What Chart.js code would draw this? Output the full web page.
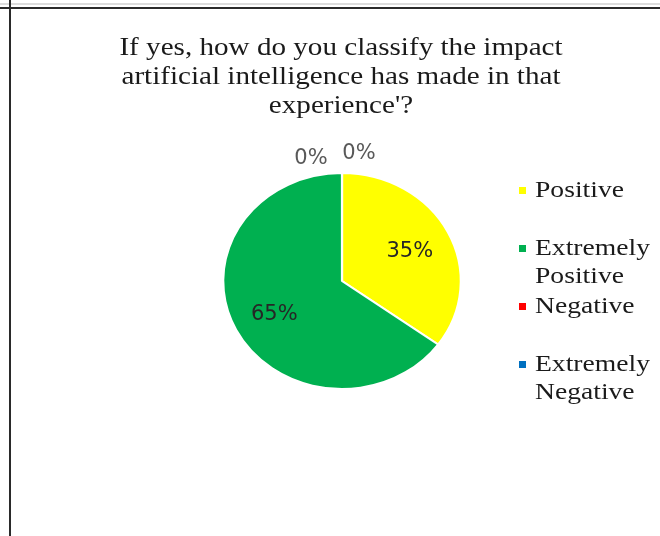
<!DOCTYPE html>
<html>
<head>
<meta charset="utf-8">
<script src="https://cdn.jsdelivr.net/npm/chart.js@4"></script>
<style>
body{margin:0;background:#fff;}
#wrap{position:relative;width:660px;height:536px;overflow:hidden;}
#canva1{position:absolute;left:0;top:0;}
.lineTop{position:absolute;left:0;top:7px;width:660px;height:2px;background:#2a2a2a;}
.lineTop2{position:absolute;left:0;top:3px;width:660px;height:2px;background:#dcdcdc;}
.lineLeft{position:absolute;left:9px;top:0;width:2px;height:536px;background:#2a2a2a;}
#titulo{position:absolute;left:341px;top:32px;white-space:nowrap;text-align:center;
 font-family:"Liberation Serif","Times New Roman",serif;font-size:26px;line-height:29px;color:#1a1a1a;
 transform:translateX(-50%) scaleX(1.12);}
#legenda{position:absolute;left:535px;top:176px;}
.item{position:relative;height:58px;width:100px;font-family:"Liberation Serif","Times New Roman",serif;
 font-size:23px;line-height:28px;color:#1a1a1a;}
.item span{display:block;transform:scaleX(1.2);transform-origin:left center;}
.item i{position:absolute;left:-16px;top:11px;width:7px;height:7px;}
</style>
</head>
<body>
<div id="wrap">
<div class="lineTop2"></div>
<div class="lineTop"></div>
<div class="lineLeft"></div>
<canvas id="canva1" width="660" height="536"></canvas>
<div id="titulo"></div>
<div id="legenda"></div>
</div>
<script>
// dados do grafico
var titulo = ["If yes, how do you classify the impact", "artificial intelligence has made in that", "experience'?"]
var categorias = ["Positive", "Extremely Positive", "Negative", "Extremely Negative"]
var valores = [35, 65, 0, 0]
var cores = ["#FFFF00", "#00B050", "#FF0000", "#0070C0"]

document.getElementById("titulo").innerHTML = titulo.join("<br>")

var leg = document.getElementById("legenda")
for(var i = 0; i < categorias.length; i++){
  var d = document.createElement("div")
  d.className = "item"
  d.innerHTML = '<i style="background:' + cores[i] + '"></i><span>' + categorias[i] + '</span>'
  leg.appendChild(d)
}

// pizza um pouco esticada na horizontal como no original
var esticar = 1.1
const estica = {
  id: "estica",
  beforeDatasetsDraw(chart){
    var a = chart.getDatasetMeta(0).data[0]
    var ctx = chart.ctx
    ctx.save()
    ctx.translate(a.x, a.y)
    ctx.scale(esticar, 1)
    ctx.translate(-a.x, -a.y)
  },
  afterDatasetsDraw(chart){
    chart.ctx.restore()
  }
}

// rotulos de porcentagem
const rotulos = {
  id: "rotulos",
  afterDraw(chart){
    var ctx = chart.ctx
    var meta = chart.getDatasetMeta(0)
    var zeros = 0
    var desloc = [[-31, -14], [17, -19]]
    ctx.save()
    ctx.font = "21px 'DejaVu Sans'"
    ctx.textAlign = "center"
    ctx.textBaseline = "middle"
    for(var i = 0; i < meta.data.length; i++){
      var arc = meta.data[i]
      var texto = valores[i] + "%"
      if(valores[i] > 0){
        var meio = (arc.startAngle + arc.endAngle) / 2
        var r = arc.outerRadius * 0.64
        ctx.fillStyle = "#262626"
        ctx.fillText(texto, arc.x + Math.cos(meio) * r * esticar, arc.y + Math.sin(meio) * r + 2)
      } else {
        var d = desloc[zeros] || [0, -20]
        zeros++
        ctx.fillStyle = "#595959"
        ctx.fillText(texto, arc.x + Math.cos(arc.startAngle) * arc.outerRadius + d[0],
          arc.y + Math.sin(arc.startAngle) * arc.outerRadius + d[1])
      }
    }
    ctx.restore()
  }
}

const config = {
  type: "pie",
  data: {
    labels: categorias,
    datasets: [{
      data: valores,
      backgroundColor: cores,
      borderColor: "#ffffff",
      borderWidth: 2
    }]
  },
  options: {
    responsive: false,
    animation: false,
    layout: {padding: {left: 233, right: 209, top: 172, bottom: 146}},
    plugins: {legend: {display: false}, tooltip: {enabled: false}, title: {display: false}}
  },
  plugins: [estica, rotulos]
}
const ctx = document.getElementById("canva1").getContext("2d")
window.chart = new Chart(ctx, config)
</script>
</body>
</html>
